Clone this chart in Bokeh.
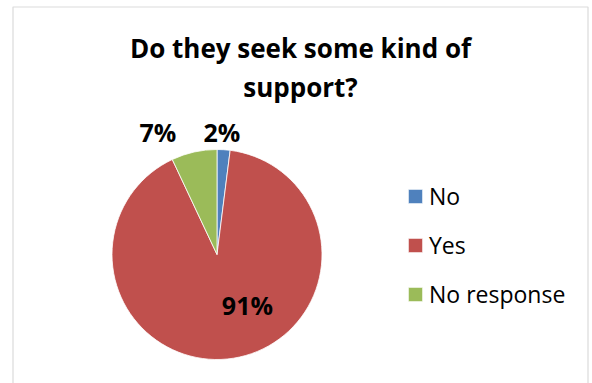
import math
from bokeh.plotting import figure
from bokeh.models import Range1d, Legend, LegendItem, BoxAnnotation, Label, ColumnDataSource
from bokeh.embed import file_html
from bokeh.resources import INLINE

# ---- data ----
categories = ["No", "Yes", "No response"]
values = [2, 91, 7]
colors = ["#4F81BD", "#C0504D", "#9BBB59"]
title_lines = ["Do they seek some kind of", "support?"]

# ---- layout (pixels; 1 data unit = 1 px) ----
W, H = 592, 383
CX, CY, R = 216.5, 129.0, 105.0
label_radius = [115, 60, 115]
label_nudge = [(-2.4, 7.5), (21.0, 9.0), (-34.0, 10.0)]

total = float(sum(values))
starts, ends, mids = [], [], []
cum = 0.0
for v in values:
    a0 = math.pi / 2 - 2 * math.pi * cum / total
    cum += v
    a1 = math.pi / 2 - 2 * math.pi * cum / total
    starts.append(a0)
    ends.append(a1)
    mids.append((a0 + a1) / 2)

src = ColumnDataSource(dict(cat=categories, val=values, color=colors,
                            start=starts, end=ends))

p = figure(width=W, height=H, x_range=Range1d(0, W), y_range=Range1d(0, H),
           toolbar_location=None, output_backend="svg", min_border=0)
p.axis.visible = False
p.xgrid.visible = False
p.ygrid.visible = False
p.outline_line_color = None
p.background_fill_color = "white"
p.border_fill_color = "white"

# chart border
p.add_layout(BoxAnnotation(left=12.5, right=587.5, top=H - 6.5, bottom=-20,
                           fill_alpha=0, line_color="#878787", line_width=1.2))

r = p.wedge(x=CX, y=CY, radius=R, start_angle="start", end_angle="end",
            direction="clock", fill_color="color", line_color="white",
            line_width=0.8, source=src)

# data labels
for i, v in enumerate(values):
    pct = round(100 * v / total)
    lx = CX + label_radius[i] * math.cos(mids[i]) + label_nudge[i][0]
    ly = CY + label_radius[i] * math.sin(mids[i]) + label_nudge[i][1]
    p.add_layout(Label(x=lx, y=ly, text=f"{pct}%", text_align="center",
                       text_baseline="alphabetic", text_font="Open Sans",
                       text_font_style="bold", text_font_size="25px",
                       text_color="black"))

# title
for j, line in enumerate(title_lines):
    p.add_layout(Label(x=300, y=H - 47 - 39 * j, text=line, text_align="center",
                       text_baseline="alphabetic", text_font="Open Sans",
                       text_font_style="bold", text_font_size="26px",
                       text_color="black"))

legend = Legend(items=[LegendItem(label=c, renderers=[r], index=i)
                       for i, c in enumerate(categories)],
                location=(406, 73), orientation="vertical",
                glyph_width=18, glyph_height=18, label_height=30,
                spacing=17, padding=0, margin=0, label_standoff=5,
                label_text_font="Open Sans", label_text_font_size="23px",
                label_text_color="black", border_line_color=None,
                background_fill_alpha=0)
p.add_layout(legend)

open("out.html", "w").write(file_html(p, INLINE))
